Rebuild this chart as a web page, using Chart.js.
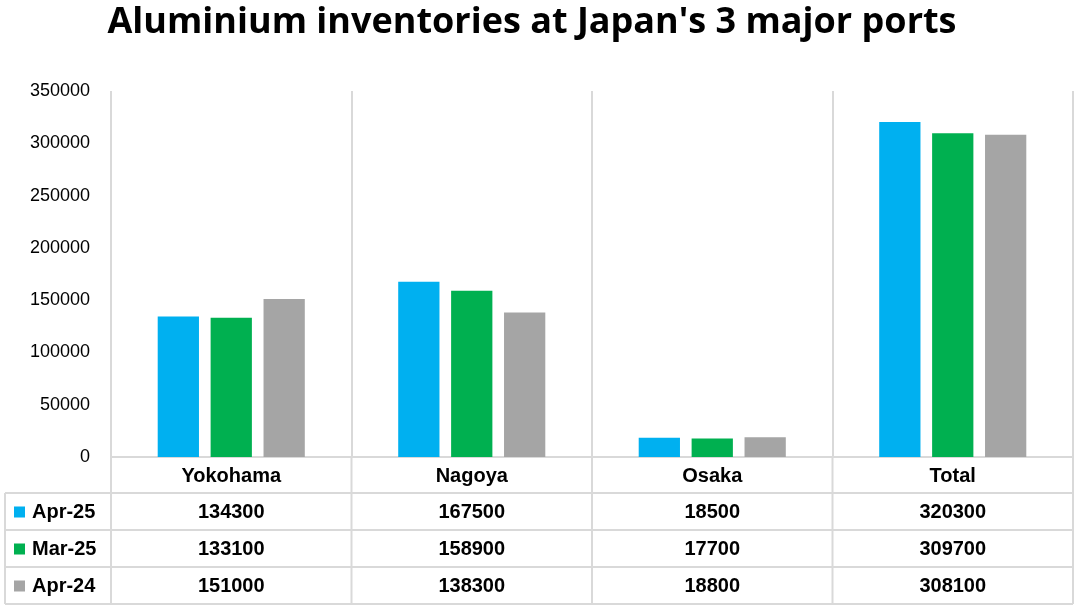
<!DOCTYPE html>
<html>
<head>
<meta charset="utf-8">
<script src="https://cdn.jsdelivr.net/npm/chart.js@4"></script>
<style>
  html, body { margin: 0; padding: 0; background: #fff; }
  #wrap { width: 1080px; height: 612px; }
</style>
</head>
<body>
<div id="wrap"><canvas id="meuGrafico"></canvas></div>
<script>
const ports = ['Yokohama', 'Nagoya', 'Osaka', 'Total'];
const seriesNames = ['Apr-25', 'Mar-25', 'Apr-24'];
const apr25 = [134300, 167500, 18500, 320300];
const mar25 = [133100, 158900, 17700, 309700];
const apr24 = [151000, 138300, 18800, 308100];
const colors = ['#00B0F0', '#00B050', '#A5A5A5'];

const lineColor = '#D9D9D9';
const tableFont = 'bold 20px "Liberation Sans", Arial, sans-serif';

// draws title and the data table under the axis
const tablePlugin = {
  id: 'dataTable',
  afterDraw(chart) {
    const ctx = chart.ctx;
    const x = chart.scales.x;
    const area = chart.chartArea;
    const rowH = 37;
    const headTop = area.bottom;
    const headBottom = headTop + 36;
    const tableBottom = headBottom + rowH * 3;
    const leftEdge = 5;

    ctx.save();
    // title
    ctx.fillStyle = '#000';
    ctx.font = 'bold 36px "Open Sans", sans-serif';
    ctx.textAlign = 'center';
    ctx.textBaseline = 'middle';
    ctx.fillText("Aluminium inventories at Japan's 3 major ports", 532, 23);

    ctx.strokeStyle = lineColor;
    ctx.lineWidth = 2;
    // vertical lines through the table
    for (let i = 0; i <= ports.length; i++) {
      const px = i === 0 ? area.left : (i === ports.length ? area.right : (x.getPixelForValue(i - 1) + x.getPixelForValue(i)) / 2);
      ctx.beginPath();
      ctx.moveTo(px, headTop);
      ctx.lineTo(px, tableBottom);
      ctx.stroke();
    }
    ctx.beginPath();
    ctx.moveTo(leftEdge, headBottom);
    ctx.lineTo(leftEdge, tableBottom);
    ctx.stroke();
    for (let r = 0; r <= 3; r++) {
      const y = headBottom + r * rowH;
      ctx.beginPath();
      ctx.moveTo(leftEdge, y);
      ctx.lineTo(area.right, y);
      ctx.stroke();
    }

    ctx.fillStyle = '#000';
    ctx.font = tableFont;
    ctx.textAlign = 'center';
    // category header
    chart.data.labels.forEach((lab, i) => {
      ctx.fillText(lab, x.getPixelForValue(i), (headTop + headBottom) / 2 + 1);
    });
    // rows
    chart.data.datasets.forEach((ds, r) => {
      const cy = headBottom + r * rowH + rowH / 2 + 1;
      ctx.fillStyle = ds.backgroundColor;
      ctx.fillRect(14, cy - 6, 11, 11);
      ctx.fillStyle = '#000';
      ctx.textAlign = 'left';
      ctx.fillText(ds.label, 32, cy);
      ctx.textAlign = 'center';
      ds.data.forEach((v, i) => {
        ctx.fillText(String(v), x.getPixelForValue(i), cy);
      });
    });
    ctx.restore();
  }
};

const ctx = document.getElementById('meuGrafico').getContext('2d');
new Chart(ctx, {
  type: 'bar',
  data: {
    labels: ports,
    datasets: [apr25, mar25, apr24].map((d, i) => ({
      label: seriesNames[i],
      data: d,
      backgroundColor: colors[i],
      categoryPercentage: 0.66,
      barPercentage: 0.78
    }))
  },
  options: {
    responsive: true,
    maintainAspectRatio: false,
    animation: false,
    layout: { padding: { top: 91, right: 7, bottom: 155, left: 0 } },
    plugins: {
      legend: { display: false },
      tooltip: { enabled: false }
    },
    scales: {
      x: {
        ticks: { display: false },
        grid: { offset: true, color: lineColor, lineWidth: 2, drawTicks: false },
        border: { color: lineColor, width: 2 }
      },
      y: {
        min: 0,
        max: 350000,
        ticks: {
          stepSize: 50000,
          padding: 21,
          color: '#000',
          font: { family: '"Liberation Sans", Arial, sans-serif', size: 18 },
          callback: v => String(v)
        },
        grid: { display: false, drawTicks: false },
        border: { display: false },
        afterFit(scale) { scale.width = 111; }
      }
    }
  },
  plugins: [tablePlugin]
});
</script>
</body>
</html>
